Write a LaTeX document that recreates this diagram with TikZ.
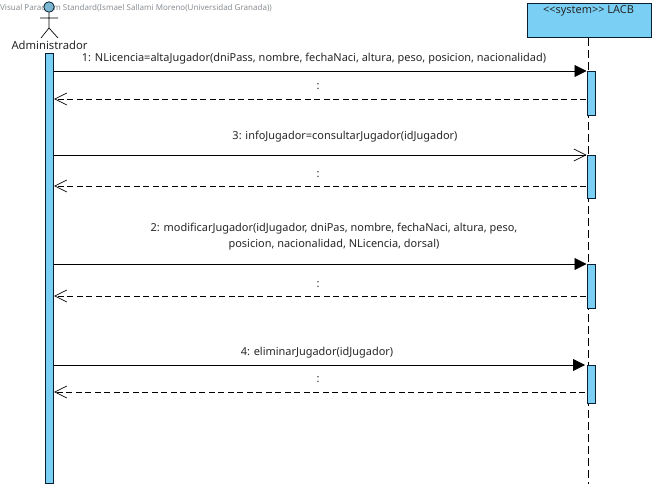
\documentclass[tikz,border=0pt]{standalone}
\usepackage{fontspec}
\setmainfont{Noto Sans}
\usetikzlibrary{calc, positioning, arrows.meta}
\definecolor{BarBlue}{HTML}{7ACFF5}
\definecolor{EdgeNavy}{HTML}{0A1E32}
\definecolor{StampGray}{HTML}{8A8F94}
\tikzset{
    barbox/.style={draw=EdgeNavy, fill=BarBlue, line width=0.8pt, rectangle, inner sep=0pt, minimum width=8pt},
    msgtext/.style={font=\fontsize{10.95pt}{16pt}\selectfont, align=center, text=black!85, inner sep=0pt},
    callline/.style={black, line width=0.8pt},
    retline/.style={black, line width=0.7pt, dash pattern=on 6pt off 3.5pt, -{Straight Barb[length=12pt,width=12pt,line width=0.6pt]}},
    syncTip/.style={-{Triangle[length=12pt,width=12pt]}},
    openTip/.style={-{Straight Barb[length=12pt,width=12pt,line width=0.6pt]}}
}
\begin{document}
\begin{tikzpicture}[x=1pt, y=-1pt]
        \useasboundingbox (0,0) rectangle (657,487);
        \fill[white] (0,0) rectangle (657,487);

        \node[anchor=west, StampGray, font=\fontsize{8pt}{10pt}\selectfont, inner sep=0pt] (stamp) at (0,8) {Visual Paradigm Standard(Ismael Sallami Moreno(Universidad Granada))};

        % Actor
        \node[circle, draw=EdgeNavy, fill=BarBlue!70!gray, line width=0.8pt, minimum size=10.5pt, inner sep=0pt] (head) at (49,7) {};
        \coordinate (hip) at (49,28);
        \coordinate (armL) at (40,18);
        \coordinate (armR) at (58,18);
        \coordinate (footL) at (41,38);
        \coordinate (footR) at (58,38);
        \draw[black, line width=0.7pt] (head.south) -- (hip) (armL) -- (armR) (footL) -- (hip) -- (footR);
        \node[font=\fontsize{11.25pt}{13pt}\selectfont, text=black!85, inner sep=0pt] (admin) at (49.5,45.5) {Administrador};

        % System lifeline
        \node[barbox, anchor=north west, minimum width=124.5pt, minimum height=34pt] (lacb) at (526.5,3) {};
        \node[font=\fontsize{10.95pt}{13pt}\selectfont, text=black!85, inner sep=0pt] (lacbname) at (588.5,11) {<{}<system>{}> LACB};
        \coordinate (lifeEnd) at (588.5,484);
        \draw[black, line width=0.7pt, dash pattern=on 8pt off 4pt] (lacb.south -| lifeEnd) -- (lifeEnd);

        % Activation bars
        \node[barbox, anchor=north west, minimum height=429pt] (admBar) at (45.4,53.5) {};
        \foreach \barname/\ytop/\yhigh in {barA/71/44, barB/155/43, barC/264/44, barD/365/38}
            \node[barbox, anchor=north west, minimum height=\yhigh pt] (\barname) at (586.5,\ytop) {};

        % Return points
        \coordinate (retA) at (586,99);
        \coordinate (retB) at (586,186);
        \coordinate (retC) at (586,296);
        \coordinate (retD) at (585,392);

        % Calls
        \draw[callline, syncTip] (admBar.east |- barA.north) -- (barA.north west);
        \draw[callline, openTip] (admBar.east |- barB.north) -- (barB.north west);
        \draw[callline, syncTip] (admBar.east |- barC.north) -- (barC.north west);
        \draw[callline, syncTip] (admBar.east |- barD.north) -- ($(barD.north west)+(-1.5,0)$);

        % Replies
        \foreach \retname in {retA, retB, retC, retD}
            \draw[retline] (\retname) -- (\retname -| admBar.east);

        % Labels
        \node[msgtext] (callAtext) at (314,59) {1: NLicencia=altaJugador(dniPass, nombre, fechaNaci, altura, peso, posicion, nacionalidad)};
        \node[msgtext] (callBtext) at (345,137) {3: infoJugador=consultarJugador(idJugador)};
        \node[msgtext] (callCtext) at (334,236.5) {2: modificarJugador(idJugador, dniPas, nombre, fechaNaci, altura, peso,\\posicion, nacionalidad, NLicencia, dorsal)};
        \node[msgtext] (callDtext) at (317,352.5) {4: eliminarJugador(idJugador)};
        \node[msgtext] (retAtext) at (318,87) {:};
        \node[msgtext] (retBtext) at (318,174.5) {:};
        \node[msgtext] (retCtext) at (318,284.5) {:};
        \node[msgtext] (retDtext) at (318,379.5) {:};
\end{tikzpicture}
\end{document}
